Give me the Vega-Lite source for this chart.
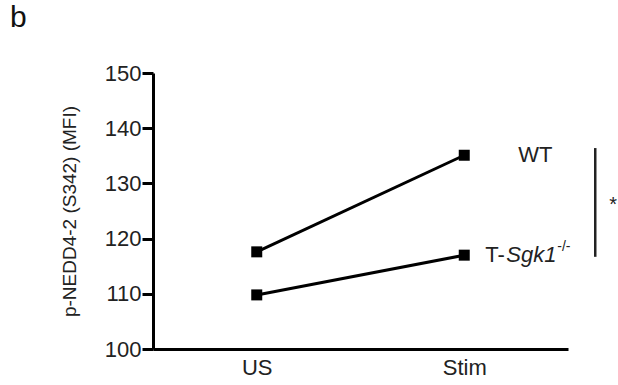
{
  "$schema": "https://vega.github.io/schema/vega-lite/v6.json",
  "autosize": {"type": "none"},
  "width": 415,
  "height": 276,
  "padding": {"left": 153, "top": 73, "right": 50, "bottom": 36},
  "background": "white",
  "title": {"text": "b", "anchor": "start", "frame": "group", "fontSize": 30, "font": "Liberation Sans", "fontWeight": "normal", "color": "#111", "dx": -143, "dy": -29, "offset": 0},
  "config": {"view": {"stroke": null}, "font": "Liberation Sans"},
  "datasets": {
    "series": [
      {"group": "WT", "condition": "US", "value": 117.6},
      {"group": "WT", "condition": "Stim", "value": 135.1},
      {"group": "T-Sgk1-/-", "condition": "US", "value": 109.8},
      {"group": "T-Sgk1-/-", "condition": "Stim", "value": 117.0}
    ],
    "wt": [
      {"condition": "Stim", "value": 135.1, "part": "WT"}
    ],
    "tdash": [
      {"condition": "Stim", "value": 117.0, "part": "T-"}
    ],
    "italic": [
      {"condition": "Stim", "value": 117.0, "part": "Sgk1"}
    ],
    "sup": [
      {"condition": "Stim", "value": 117.0, "part": "-/-"}
    ],
    "bracket": [
      {"condition": "Stim", "top": 136.4, "bottom": 116.7}
    ],
    "star": [
      {"condition": "Stim", "value": 127.0, "text": "*"}
    ]
  },
  "layer": [
    {
      "data": {"name": "series"},
      "mark": {"type": "line", "color": "black", "strokeWidth": 3},
      "encoding": {
        "x": {"field": "condition", "type": "nominal", "sort": ["US", "Stim"],
          "scale": {"type": "point", "padding": 0.5},
          "axis": {"title": null, "labelAngle": 0, "ticks": false, "domainColor": "black", "domainWidth": 3, "labelFontSize": 22, "labelColor": "#222", "labelPadding": 8, "labelFont": "Liberation Sans"}},
        "y": {"field": "value", "type": "quantitative",
          "scale": {"domain": [100, 150], "nice": false, "zero": false},
          "axis": {"title": "p-NEDD4-2 (S342)  (MFI)", "values": [100, 110, 120, 130, 140, 150], "grid": false,
            "domainColor": "black", "domainWidth": 3, "tickColor": "black", "tickWidth": 3, "tickSize": 11,
            "labelFontSize": 22, "labelColor": "#222", "labelPadding": 1, "labelFont": "Liberation Sans",
            "titleFontSize": 19, "titleFontWeight": "normal", "titleColor": "#222", "titlePadding": 25, "titleFont": "Liberation Sans"}},
        "detail": {"field": "group"}
      }
    },
    {
      "data": {"name": "series"},
      "mark": {"type": "point", "shape": "square", "filled": true, "color": "black", "size": 121, "opacity": 1},
      "encoding": {
        "x": {"field": "condition", "type": "nominal", "sort": ["US", "Stim"]},
        "y": {"field": "value", "type": "quantitative"}
      }
    },
    {
      "data": {"name": "wt"},
      "mark": {"type": "text", "align": "left", "baseline": "middle", "fontSize": 22, "color": "#222", "font": "Liberation Sans", "dx": 54},
      "encoding": {
        "x": {"field": "condition", "type": "nominal", "sort": ["US", "Stim"]},
        "y": {"field": "value", "type": "quantitative"},
        "text": {"field": "part"}
      }
    },
    {
      "data": {"name": "tdash"},
      "mark": {"type": "text", "align": "left", "baseline": "middle", "fontSize": 22, "color": "#222", "font": "Liberation Sans", "dx": 21},
      "encoding": {
        "x": {"field": "condition", "type": "nominal", "sort": ["US", "Stim"]},
        "y": {"field": "value", "type": "quantitative"},
        "text": {"field": "part"}
      }
    },
    {
      "data": {"name": "italic"},
      "mark": {"type": "text", "align": "left", "baseline": "middle", "fontSize": 22, "fontStyle": "italic", "color": "#222", "font": "Liberation Sans", "dx": 42},
      "encoding": {
        "x": {"field": "condition", "type": "nominal", "sort": ["US", "Stim"]},
        "y": {"field": "value", "type": "quantitative"},
        "text": {"field": "part"}
      }
    },
    {
      "data": {"name": "sup"},
      "mark": {"type": "text", "align": "left", "baseline": "middle", "fontSize": 14, "color": "#222", "font": "Liberation Sans", "dx": 93, "dy": -8},
      "encoding": {
        "x": {"field": "condition", "type": "nominal", "sort": ["US", "Stim"]},
        "y": {"field": "value", "type": "quantitative"},
        "text": {"field": "part"}
      }
    },
    {
      "data": {"name": "bracket"},
      "mark": {"type": "rule", "color": "#222", "strokeWidth": 2.5, "xOffset": 131},
      "encoding": {
        "x": {"field": "condition", "type": "nominal", "sort": ["US", "Stim"]},
        "y": {"field": "top", "type": "quantitative"},
        "y2": {"field": "bottom"}
      }
    },
    {
      "data": {"name": "star"},
      "mark": {"type": "text", "align": "center", "baseline": "middle", "fontSize": 20, "color": "#222", "font": "Liberation Sans", "dx": 149, "dy": 5},
      "encoding": {
        "x": {"field": "condition", "type": "nominal", "sort": ["US", "Stim"]},
        "y": {"field": "value", "type": "quantitative"},
        "text": {"field": "text"}
      }
    }
  ]
}
